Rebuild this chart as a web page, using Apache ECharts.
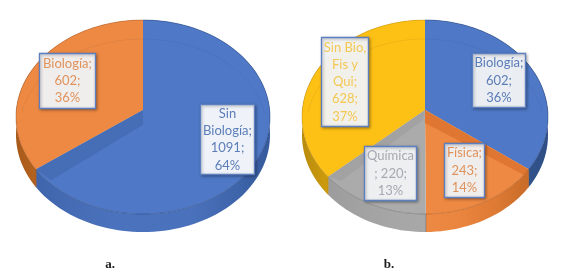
<!DOCTYPE html>
<html><head><meta charset="utf-8">
<style>html,body{margin:0;padding:0;background:#fff}#c{width:565px;height:271px}</style>
<script src="https://cdn.jsdelivr.net/npm/echarts@6/dist/echarts.min.js"></script>
</head><body><div id="c"></div>
<script>
// Data
const categoriesA = ['Sin Biología', 'Biología'];
const valuesA = [1091, 602];
const percentA = [64, 36];
const labelLinesA = [['Sin', 'Biología;', '1091;', '64%'], ['Biología;', '602;', '36%']];

const categoriesB = ['Biología', 'Física', 'Química', 'Sin Bio, Fis y Qui'];
const valuesB = [602, 243, 220, 628];
const percentB = [36, 14, 13, 37];
const labelLinesB = [['Biología;', '602;', '36%'], ['Física;', '243;', '14%'], ['Química', '; 220;', '13%'], ['Sin Bio,', 'Fis y', 'Qui;', '628;', '37%']];

const captions = ['a.', 'b.'];

// Styles and layout
const BLUE_A = {top: '#4F79C7', wall: ['#3F65AC', '#4B73BD', '#4A72BC', '#355A9C'], wedge: '#466EB7', text: '#5B7DB8', edge: 'rgba(35,60,110,0.55)'};
const BLUE_B = {top: '#4F79C7', wall: ['#466CB4', '#3F64A8', '#34568F', '#2F4F86'], wedge: '#466EB7', text: '#5B7DB8', edge: 'rgba(35,60,110,0.55)'};
const ORANGE_A = {top: '#EE8943', wall: ['#A85A1A', '#C26C24', '#DB7A30', '#E8843C'], wedge: '#DD7330', text: '#E0925C', edge: 'rgba(150,80,30,0.5)'};
const ORANGE_B = {top: '#EE8943', wall: ['#EE8943', '#EA853F', '#DE7A34', '#C86C28'], wedge: '#DF7632', text: '#E0925C', edge: 'rgba(170,90,35,0.65)'};
const YELLOW = {top: '#FDC015', wall: ['#B98C0C', '#D9A30E', '#EDB414', '#F5BA14'], wedge: '#E8AE12', text: '#F3C853', edge: 'rgba(160,120,10,0.4)'};
const GRAY = {top: '#ABABAB', wall: ['#9C9C9C', '#A2A2A2', '#A6A6A6', '#A8A8A8'], wedge: '#A2A2A2', text: '#A6A8B2', edge: 'rgba(95,95,95,0.55)'};
const pieA = {cx: 143, cy: 117, rx: 127, ry: 97, depth: 18, apexY: 110, colors: [BLUE_A, ORANGE_A],
  values: valuesA, wedges: {0: {end: true, rim: [15, 11], apex: [0, 15]}}};
const pieB = {cx: 425, cy: 117, rx: 123, ry: 97, depth: 18, apexY: 110, colors: [BLUE_B, ORANGE_B, GRAY, YELLOW],
  values: valuesB, wedges: {1: {end: false, rim: [-4, 6], apex: [0, 13]}, 2: {end: true, rim: [13, 4], apex: [-2, 10]}}};

const WARP = 5.5 * Math.PI / 180;
function rimPoint(p, frac) {
  const t = frac * 2 * Math.PI;
  const a = t + WARP * Math.sin(2 * t);
  return [p.cx + p.rx * Math.sin(a), p.cy - p.ry * Math.cos(a)];
}
function arc(p, f0, f1) {
  const n = Math.max(2, Math.ceil((f1 - f0) * 180)), pts = [];
  for (let k = 0; k <= n; k++) pts.push(rimPoint(p, f0 + (f1 - f0) * k / n));
  return pts;
}
function renderSlice(p) {
  const total = p.values.reduce((s, v) => s + v, 0);
  return function (params, api) {
    const i = params.dataIndex;
    const value = api.value(0);
    let before = 0;
    for (let k = 0; k < i; k++) before += p.values[k];
    const f0 = before / total, f1 = (before + value) / total;
    const c = p.colors[i];
    const rim = arc(p, f0, f1);
    const low = rim.map(q => [q[0], q[1] + p.depth]).reverse();
    const apex = [p.cx, p.apexY];
    const stops = c.wall.map((color, k) => ({offset: k / (c.wall.length - 1), color}));
    const r0 = rim[0];
    const children = [
      {type: 'polygon', z2: 1, shape: {points: rim.concat(low)},
        style: {fill: new echarts.graphic.LinearGradient(0, 0, 1, 0, stops)}},
      {type: 'line', z2: 1, shape: {x1: r0[0], y1: r0[1], x2: r0[0], y2: r0[1] + p.depth},
        style: {stroke: c.edge, lineWidth: 1}},
      {type: 'polygon', z2: 2, shape: {points: [apex].concat(rim)}, style: {fill: c.top}},
      {type: 'polyline', z2: 4, shape: {points: rim}, style: {stroke: c.edge, lineWidth: 0.8, fill: null}}
    ];
    const w = p.wedges[i];
    if (w) {
      const r = rimPoint(p, w.end ? f1 : f0);
      children.push({type: 'polygon', z2: 3, shape: {points: [apex, r,
        [r[0] + w.rim[0], r[1] + w.rim[1]], [apex[0] + w.apex[0], apex[1] + w.apex[1]]]}, style: {fill: c.wedge}});
    }
    return {type: 'group', children};
  };
}
function ring(p) {
  const pts = [];
  for (let k = 0; k <= 120; k++) {
    const a = -Math.PI / 2 - 1.4 + 2.8 * k / 120;
    pts.push([p.cx + (p.rx - 4) * Math.cos(a), p.cy + 11 + (p.ry - 8) * Math.sin(a)]);
  }
  return {type: 'polyline', z: 5, silent: true, shape: {points: pts}, style: {stroke: 'rgba(40,40,60,0.07)', fill: null, lineWidth: 1}};
}
function box(x, y, w, h, lines, color, fill) {
  return [
    {type: 'rect', z: 10, silent: true, shape: {x, y, width: w, height: h},
      style: {fill: fill || 'rgba(244,245,248,0.95)', stroke: '#5B7FC0', lineWidth: 1.3,
        shadowBlur: 3, shadowColor: 'rgba(0,0,0,0.35)', shadowOffsetX: 1, shadowOffsetY: 1}},
    {type: 'text', z: 11, silent: true, x: x + w / 2, y: y + h / 2,
      style: {text: lines.join('\n'), fill: color, align: 'center', verticalAlign: 'middle',
        font: '13px Lato', lineHeight: 17.3}}
  ];
}
const graphics = [
  ring(pieA), ring(pieB),
  ...box(200.5, 104.5, 54, 70, labelLinesA[0], BLUE_A.text, '#EFF3F9'),
  ...box(39.5, 53.5, 56, 55, labelLinesA[1], ORANGE_A.text),
  ...box(472.5, 53.5, 53, 54, labelLinesB[0], BLUE_B.text),
  ...box(444.5, 143.5, 40, 54, labelLinesB[1], ORANGE_B.text),
  ...box(364.5, 146.5, 52, 54, labelLinesB[2], GRAY.text),
  ...box(321.5, 37.5, 47, 89, labelLinesB[3], YELLOW.text),
  {type: 'text', z: 11, silent: true, x: 110, y: 265, style: {text: captions[0], fill: '#1a1a1a', align: 'center', verticalAlign: 'middle', font: 'bold 13px "Liberation Serif"'}},
  {type: 'text', z: 11, silent: true, x: 389, y: 265, style: {text: captions[1], fill: '#1a1a1a', align: 'center', verticalAlign: 'middle', font: 'bold 13px "Liberation Serif"'}}
];
const chart = echarts.init(document.getElementById('c'), null, {renderer: 'canvas'});
chart.setOption({
  animation: false,
  backgroundColor: '#fff',
  graphic: {elements: graphics},
  series: [
    {type: 'custom', name: 'a', coordinateSystem: 'none', renderItem: renderSlice(pieA), silent: true,
      data: valuesA.map((v, i) => ({name: categoriesA[i], value: [v, percentA[i]]}))},
    {type: 'custom', name: 'b', coordinateSystem: 'none', renderItem: renderSlice(pieB), silent: true,
      data: valuesB.map((v, i) => ({name: categoriesB[i], value: [v, percentB[i]]}))}
  ]
});
</script></body></html>
